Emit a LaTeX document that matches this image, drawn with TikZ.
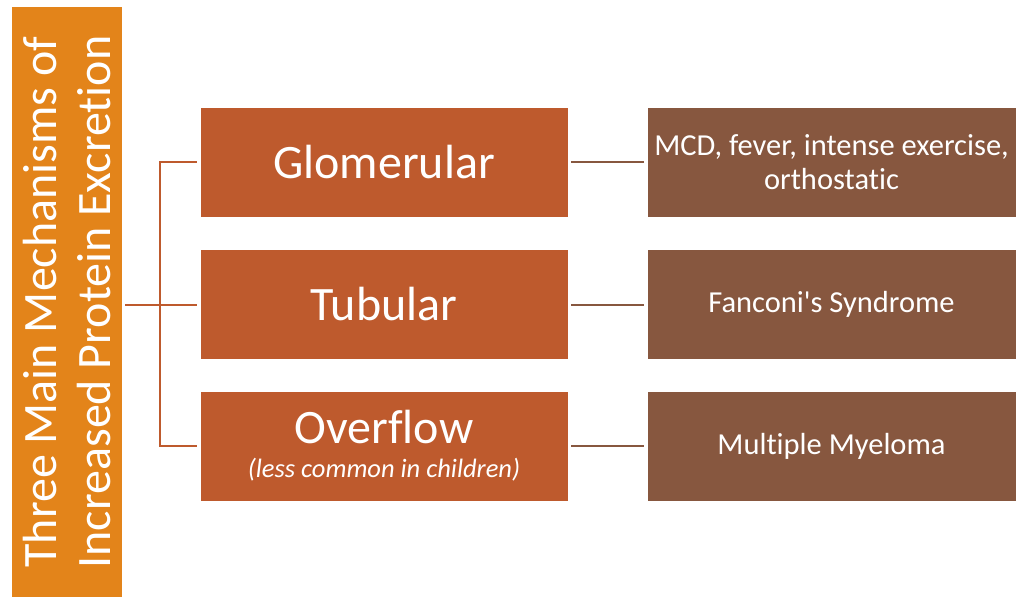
\documentclass[tikz,border=0pt]{standalone}
\usepackage{fontspec}
\setmainfont{Carlito}[Ligatures={TeXOff,NoCommon}]
\definecolor{barorange}{HTML}{E3841A}
\definecolor{midbox}{HTML}{BE5A2D}
\definecolor{rightbox}{HTML}{87573F}
\begin{document}
\begin{tikzpicture}[x=1pt,y=-1pt,
  midstyle/.style={rectangle, fill=midbox, draw=white, line width=0.6pt, minimum width=368pt, minimum height=110pt, text=white, align=center, inner sep=0pt},
  rightstyle/.style={rectangle, fill=rightbox, draw=white, line width=0.6pt, minimum width=369pt, minimum height=110pt, text=white, align=center, inner sep=0pt, font=\fontsize{30.5}{33.5}\selectfont},
  lconn/.style={draw=midbox, line width=2pt},
  rconn/.style={draw=rightbox, line width=2pt}]
\useasboundingbox (0,0) rectangle (1024,597);
\fill[white] (0,0) rectangle (1024,597);
\node[rectangle, fill=barorange, minimum width=110pt, minimum height=590pt, inner sep=0pt] (bar) at (67,302) {};
\node[rotate=90, text=white, align=center, font=\fontsize{48}{54}\selectfont] (bartext) at (bar.center) {Three Main Mechanisms of\\Increased Protein Excretion};
\node[midstyle, font=\fontsize{48}{52}\selectfont] (glom) at (384,162) {Glomerular};
\node[midstyle, font=\fontsize{48}{52}\selectfont] (tub) at (384,304.5) {Tubular};
\node[midstyle, font=\fontsize{48}{28}\selectfont] (over) at (384,446) {Overflow\\[6pt]{\fontsize{26.5}{28}\selectfont\itshape (less common in children)}};
\node[rightstyle] (r1) at (831.5,162) {MCD, fever, intense exercise,\\orthostatic};
\node[rightstyle] (r2) at (831.5,304.5) {Fanconi's Syndrome};
\node[rightstyle] (r3) at (831.5,446) {Multiple Myeloma};
\coordinate (j) at (160,304.5);
\draw[lconn] ([xshift=3pt]bar.east |- j) -- (j) -- ([xshift=-3pt]tub.west);
\draw[lconn] ([xshift=-3pt]glom.west) -| (j) |- ([xshift=-3pt]over.west);
\draw[rconn] ([xshift=3pt]glom.east) -- ([xshift=-3pt]r1.west);
\draw[rconn] ([xshift=3pt]tub.east) -- ([xshift=-3pt]r2.west);
\draw[rconn] ([xshift=3pt]over.east) -- ([xshift=-3pt]r3.west);
\end{tikzpicture}
\end{document}
